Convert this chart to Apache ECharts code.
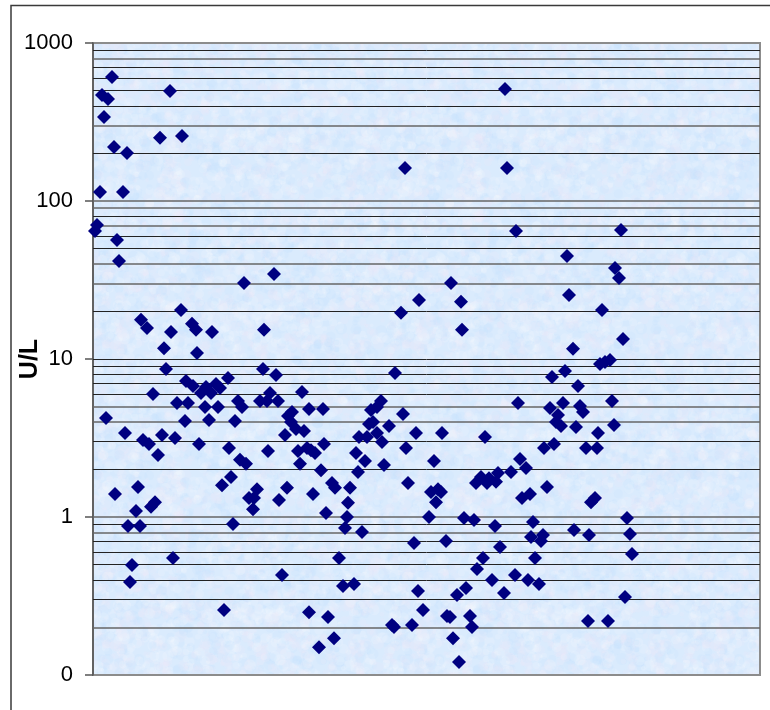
<!DOCTYPE html>
<html>
<head>
<meta charset="utf-8">
<style>html,body{margin:0;padding:0;background:#fff}#c{width:770px;height:710px}</style>
<script src="https://cdn.jsdelivr.net/npm/echarts@6/dist/echarts.min.js"></script>
</head>
<body>
<div id="c"></div>
<script>
// Position along the (unlabelled) horizontal sample axis
const samplePos = [
2,4,7,9,11,13,15,19,21,22,
24,26,30,32,34,35,37,39,43,45,
47,48,50,54,56,58,60,62,65,67,
69,71,73,77,78,80,82,84,88,89,
92,93,95,99,100,103,104,106,108,112,
113,116,118,119,123,125,127,129,131,135,
136,138,140,142,145,147,149,151,153,156,
160,161,164,167,170,171,174,175,177,181,
183,185,186,189,192,194,195,198,199,203,
205,207,209,211,214,216,216,218,220,222,
226,228,230,231,233,235,239,241,242,246,
250,252,254,255,257,261,263,265,266,269,
272,274,276,278,280,284,284,288,289,291,
296,299,301,302,308,310,312,313,315,319,
321,323,325,326,330,336,338,341,343,345,
348,349,353,354,357,358,360,364,366,368,
369,371,373,377,379,381,383,384,388,390,
392,394,396,399,402,403,405,407,411,412,
414,418,422,423,425,427,429,433,435,437,
438,440,442,446,448,450,451,454,457,459,
461,463,465,468,470,472,474,476,480,481,
483,485,487,490,493,495,496,498,502,504,
505,507,509,512,515,517,519,521,522,526,
528,530,532,534,537,539
];
// Enzyme activity in U/L
const activityUL = [
64.6,70.5,114,469,340,4.23,442,609,220,1.40,
56.7,41.7,114,3.40,201,0.877,0.388,0.497,1.09,1.55,
0.877,17.7,3.07,15.7,2.90,1.16,6.01,1.24,2.47,251,
3.30,11.7,8.65,497,14.8,0.55,3.16,5.27,20.4,258,
4.05,7.26,5.27,16.7,6.75,15.3,10.9,2.90,6.09,4.97,
6.65,4.11,6.09,14.8,6.94,4.97,6.56,1.59,0.258,7.58,
2.73,1.79,0.903,4.05,5.42,2.30,4.97,30.3,2.17,1.32,
1.12,1.32,1.50,5.42,8.65,15.3,5.42,2.62,6.09,34.5,
7.93,5.42,1.28,0.429,3.30,1.53,4.36,3.99,4.62,3.60,
2.62,2.17,6.18,3.50,2.73,4.83,0.25,2.65,1.40,2.54,
0.150,1.98,4.83,2.90,1.06,0.233,1.64,0.171,1.53,0.55,
0.366,0.852,1.0,1.23,1.53,0.377,2.54,1.93,3.21,0.804,
2.26,3.21,3.88,4.76,3.99,4.97,3.40,5.42,2.98,2.13,
3.77,0.207,0.201,8.16,19.6,4.49,162,2.73,1.64,0.207,
0.685,3.40,0.340,23.6,0.258,1.0,1.44,2.26,1.24,1.50,
1.44,3.40,0.705,0.236,0.233,30.3,0.171,0.321,0.121,23.0,
15.3,0.985,0.355,0.236,0.201,0.957,1.64,0.469,1.79,0.55,
3.21,1.64,1.76,0.399,0.877,1.67,1.90,0.646,0.33,512,
162,1.93,0.429,64.6,5.27,2.33,1.32,2.04,0.399,1.40,
0.747,0.93,0.55,0.377,0.705,0.769,2.73,1.55,4.89,7.69,
2.90,3.99,4.42,3.77,5.27,8.40,44.9,25.4,11.6,0.827,
3.71,6.75,5.04,4.62,2.73,0.22,0.769,1.24,1.32,2.73,
3.40,9.29,20.4,9.57,0.22,9.86,5.42,3.82,37.7,32.6,
65.6,13.4,0.312,0.985,0.78,0.583
];
const yTickLabels = ['0','1','10','100','1000'];
const axisName = 'U/L';
const darkGrid = [900,700,600,500,400,200,80,60,50,20,10,9,8,7,6,3,2,0.9,0.7,0.6,0.5,0.4,0.3];
const softGrid = [800,300,100,90,70,40,30,5,4,1,0.8,0.2];

const n = Math.min(samplePos.length, activityUL.length);
const points = [];
for (let i = 0; i < n; i++) points.push([samplePos[i], activityUL[i]]);

// Pale mottled wallpaper behind the plot
function mottled() {
  const W = 300, H = 300;
  const c = document.createElement('canvas');
  c.width = W; c.height = H;
  const g = c.getContext('2d');
  g.fillStyle = '#daebfd';
  g.fillRect(0, 0, W, H);
  let s = 12345;
  const r = () => (s = (s * 1103515245 + 12345) & 0x7fffffff) / 0x7fffffff;
  const tints = ['rgba(255,255,255,0.14)','rgba(195,224,252,0.16)','rgba(240,232,250,0.18)'];
  for (let i = 0; i < 3800; i++) {
    const x = r() * W, y = r() * H, rad = 1.5 + r() * 4.5;
    g.fillStyle = tints[Math.floor(r() * 3)];
    for (const dx of [-W, 0, W]) for (const dy of [-H, 0, H]) {
      g.beginPath();
      g.arc(x + dx, y + dy, rad, 0, Math.PI * 2);
      g.fill();
    }
  }
  return c;
}

const chart = echarts.init(document.getElementById('c'), null, { renderer: 'canvas' });
const gridLine = (v, style) => ({ yAxis: v, lineStyle: style });
chart.setOption({
  animation: false,
  backgroundColor: '#ffffff',
  graphic: [{
    type: 'rect', silent: true, z: 0,
    shape: { x: 11, y: 5.5, width: 900, height: 900 },
    style: { fill: null, stroke: '#3a3a3a', lineWidth: 1.5 }
  }],
  grid: {
    left: 93, top: 43, width: 667, height: 632,
    outerBoundsMode: 'none',
    containLabel: false,
    show: true,
    backgroundColor: { image: mottled(), repeat: 'repeat' },
    borderColor: '#8c8c8c', borderWidth: 2
  },
  xAxis: { type: 'value', min: 0, max: 667, show: false },
  yAxis: {
    type: 'log', logBase: 10, min: 0.1, max: 1000,
    name: axisName, nameLocation: 'middle', nameGap: 50, nameRotate: 90,
    nameMoveOverlap: false,
    nameTextStyle: { fontFamily: 'Liberation Sans', fontWeight: 'bold', fontSize: 25, color: '#000' },
    axisLine: { show: true, lineStyle: { color: '#555', width: 1.5 } },
    axisTick: { show: true, length: 8, lineStyle: { color: '#555', width: 1.5 } },
    minorTick: { show: false },
    splitLine: { show: false },
    minorSplitLine: { show: false },
    axisLabel: {
      fontFamily: 'Liberation Sans', fontSize: 22, color: '#000', margin: 20,
      formatter: (v, i) => yTickLabels[i]
    }
  },
  series: [{
    type: 'scatter',
    data: points,
    symbol: 'diamond',
    symbolSize: 14,
    z: 3,
    itemStyle: { color: '#000080', opacity: 1 },
    markLine: {
      silent: true, symbol: 'none', z: 1, animation: false,
      label: { show: false },
      data: darkGrid.map(v => gridLine(v, { color: '#222', width: 1, type: 'solid' }))
        .concat(softGrid.map(v => gridLine(v, { color: '#666', width: 1.5, type: 'solid' })))
    }
  }]
});
</script>
</body>
</html>
